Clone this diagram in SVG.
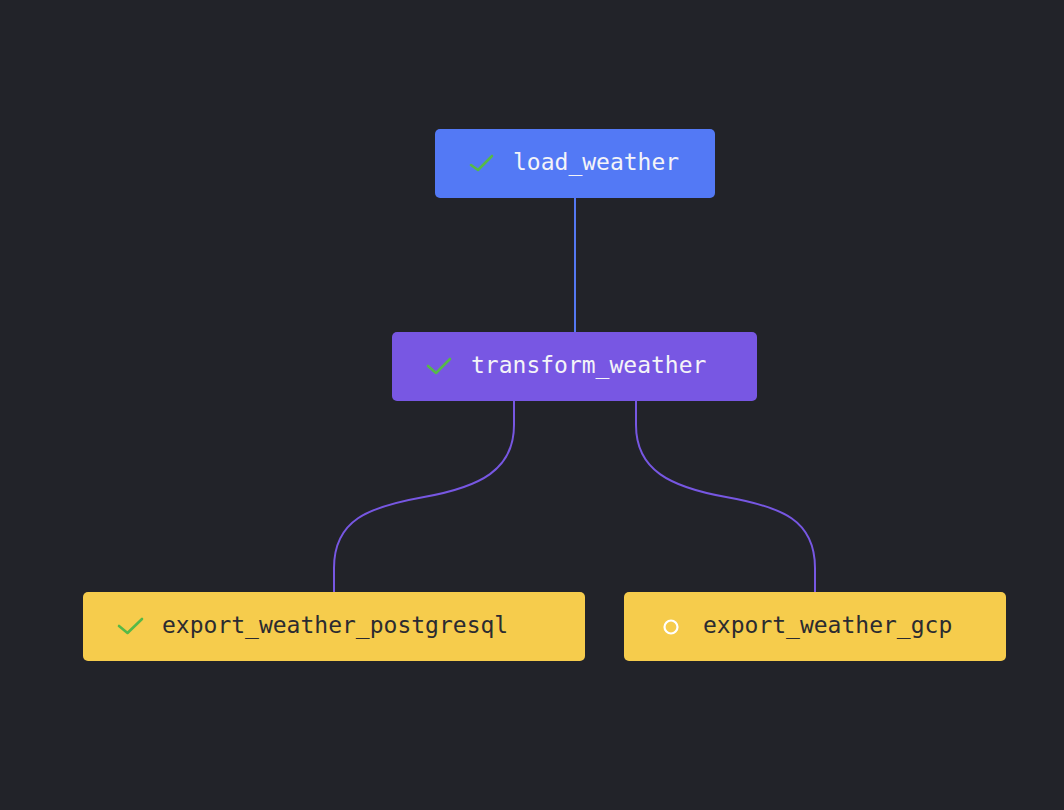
<svg xmlns="http://www.w3.org/2000/svg" width="1064" height="810" viewBox="0 0 1064 810">
<style>
.node{stroke:none}
.lbl{font-family:"DejaVu Sans Mono","Liberation Mono",monospace;font-size:23px}
.light{fill:#f4f4f8}
.dark{fill:#2b2b30}
.check{fill:none;stroke:#56b948;stroke-width:2.6;stroke-linecap:round;stroke-linejoin:round}
.edge{fill:none;stroke-width:2}
</style>
<rect x="0" y="0" width="1064" height="810" fill="#222329"/>
<g id="connectors">
<path class="edge" stroke="#5478f2" d="M575 198 V332"/>
<path class="edge" stroke="#7757e2" d="M514 401 V425 C514 470 480 487 424 497 C368 507 334 520 334 568 V592"/>
<path class="edge" stroke="#7757e2" d="M636 401 V425 C636 470 670 487 726 497 C782 507 815 520 815 568 V592"/>
</g>
<g id="load_weather">
<rect class="node" x="435" y="129" width="280" height="69" rx="5" fill="#5379f5"/>
<polyline class="check" points="471,165 478,170 492,156"/>
<text class="lbl light" x="513" y="170">load_weather</text>
</g>
<g id="transform_weather">
<rect class="node" x="392" y="332" width="365" height="69" rx="5" fill="#7857e3"/>
<polyline class="check" points="428,366 436,373 450,359"/>
<text class="lbl light" x="471" y="373">transform_weather</text>
</g>
<g id="export_weather_postgresql">
<rect class="node" x="83" y="592" width="502" height="69" rx="5" fill="#f6cc4c"/>
<polyline class="check" points="119,626 127.5,633 142,619"/>
<text class="lbl dark" x="162" y="633">export_weather_postgresql</text>
</g>
<g id="export_weather_gcp">
<rect class="node" x="624" y="592" width="382" height="69" rx="5" fill="#f6cc4c"/>
<circle cx="671" cy="627" r="6.5" fill="none" stroke="#ffffff" stroke-width="2.2"/>
<text class="lbl dark" x="703" y="633">export_weather_gcp</text>
</g>
</svg>
